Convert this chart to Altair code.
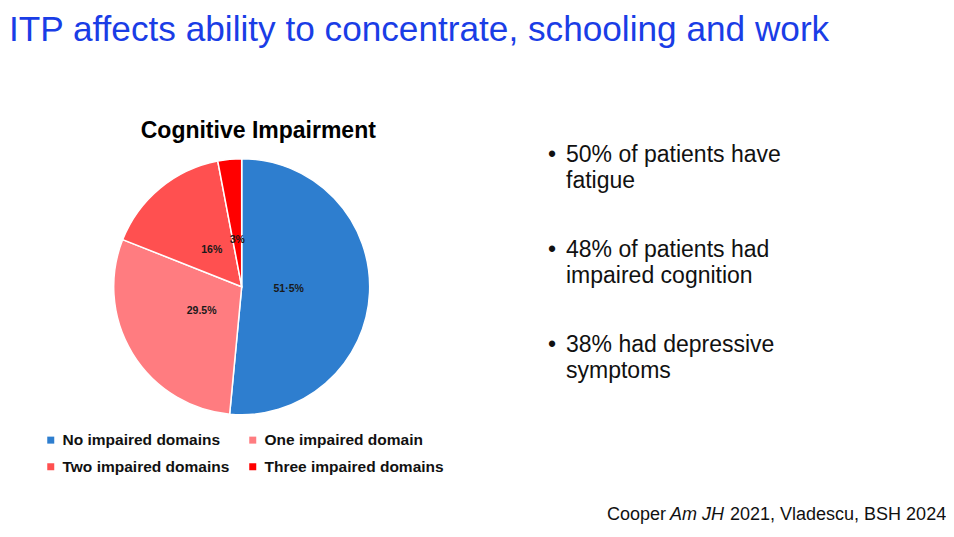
import altair as alt
import pandas as pd

# ---------------- data ----------------
slide_title = "ITP affects ability to concentrate, schooling and work"
chart_title = "Cognitive Impairment"
categories = ["No impaired domains", "One impaired domain",
              "Two impaired domains", "Three impaired domains"]
shares = [51.5, 29.5, 16, 3]
share_labels = ["51·5%", "29.5%", "16%", "3%"]
colors = ["#2E7ECF", "#FF7C80", "#FF5050", "#FF0000"]
bullets = [
    "50% of patients have\nfatigue",
    "48% of patients had\nimpaired cognition",
    "38% had depressive\nsymptoms",
]
citation_parts = ["Cooper", "Am JH", "2021, Vladescu, BSH 2024"]
citation_styles = ["normal", "italic", "normal"]

# ---------------- layout (chart coords = page coords - 8) ----------------
W, H = 938, 521
OFF = 8
CX, CY = 241.7 - OFF, 286.7 - OFF
R = 128
SANS = "Liberation Sans"

pie_df = pd.DataFrame({
    "category": categories,
    "share": shares,
    "label": share_labels,
    "order": list(range(len(categories))),
})

pie_base = alt.Chart(pie_df).encode(
    theta=alt.Theta("share:Q", stack=True),
    order=alt.Order("order:Q", sort="ascending"),
    x=alt.value(CX),
    y=alt.value(CY),
)

arcs = pie_base.mark_arc(outerRadius=R, stroke="white", strokeWidth=1.5).encode(
    color=alt.Color(
        "category:N",
        scale=alt.Scale(domain=categories, range=colors),
        legend=alt.Legend(
            title=None,
            orient="none",
            direction="horizontal",
            legendX=35,
            legendY=424,
            columns=2,
            symbolType="square",
            symbolSize=49,
            symbolStrokeWidth=0,
            labelFont=SANS,
            labelFontWeight="bold",
            labelFontSize=15.5,
            labelColor="#111111",
            labelOffset=4,
            labelLimit=300,
            columnPadding=15,
            rowPadding=10,
        ),
    )
)

slice_labels = pie_base.mark_text(
    radius=47, font=SANS, fontWeight="bold", fontSize=10.5, color="#1a1a1a"
).encode(text="label:N")

def static_text(txt, x, y, size, color="#111111", weight="normal", style="normal",
                align="left", font=SANS):
    return alt.Chart(pd.DataFrame({"t": [txt]})).mark_text(
        align=align, baseline="alphabetic", font=font, fontSize=size,
        fontWeight=weight, fontStyle=style, color=color,
        lineBreak="\n", lineHeight=26,
    ).encode(text="t:N", x=alt.value(x), y=alt.value(y))

layers = [arcs, slice_labels]

# slide title
layers.append(static_text(slide_title, 1, 40.5 - OFF, 35.2, color="#1A3DE6"))
# chart title
layers.append(static_text(chart_title, 258.3 - OFF, 138.3 - OFF, 23,
                          weight="bold", align="center", color="#000000"))

# bullets
bullet_baselines = [162, 257, 352]
for txt, yb in zip(bullets, bullet_baselines):
    layers.append(static_text("•", 548 - OFF, yb - OFF, 23))
    layers.append(static_text(txt, 566 - OFF, yb - OFF, 23))

# citation
cit_x = [607, 670, 730]
for txt, st, xx in zip(citation_parts, citation_styles, cit_x):
    layers.append(static_text(txt, xx - OFF, 520 - OFF, 18, style=st))

chart = alt.layer(*layers).properties(
    width=W, height=H,
    autosize=alt.AutoSizeParams(type="none"),
    padding=0,
    background="white",
).configure_view(stroke=None)

chart.save("out.html", embed_options={"renderer": "svg", "actions": False})
